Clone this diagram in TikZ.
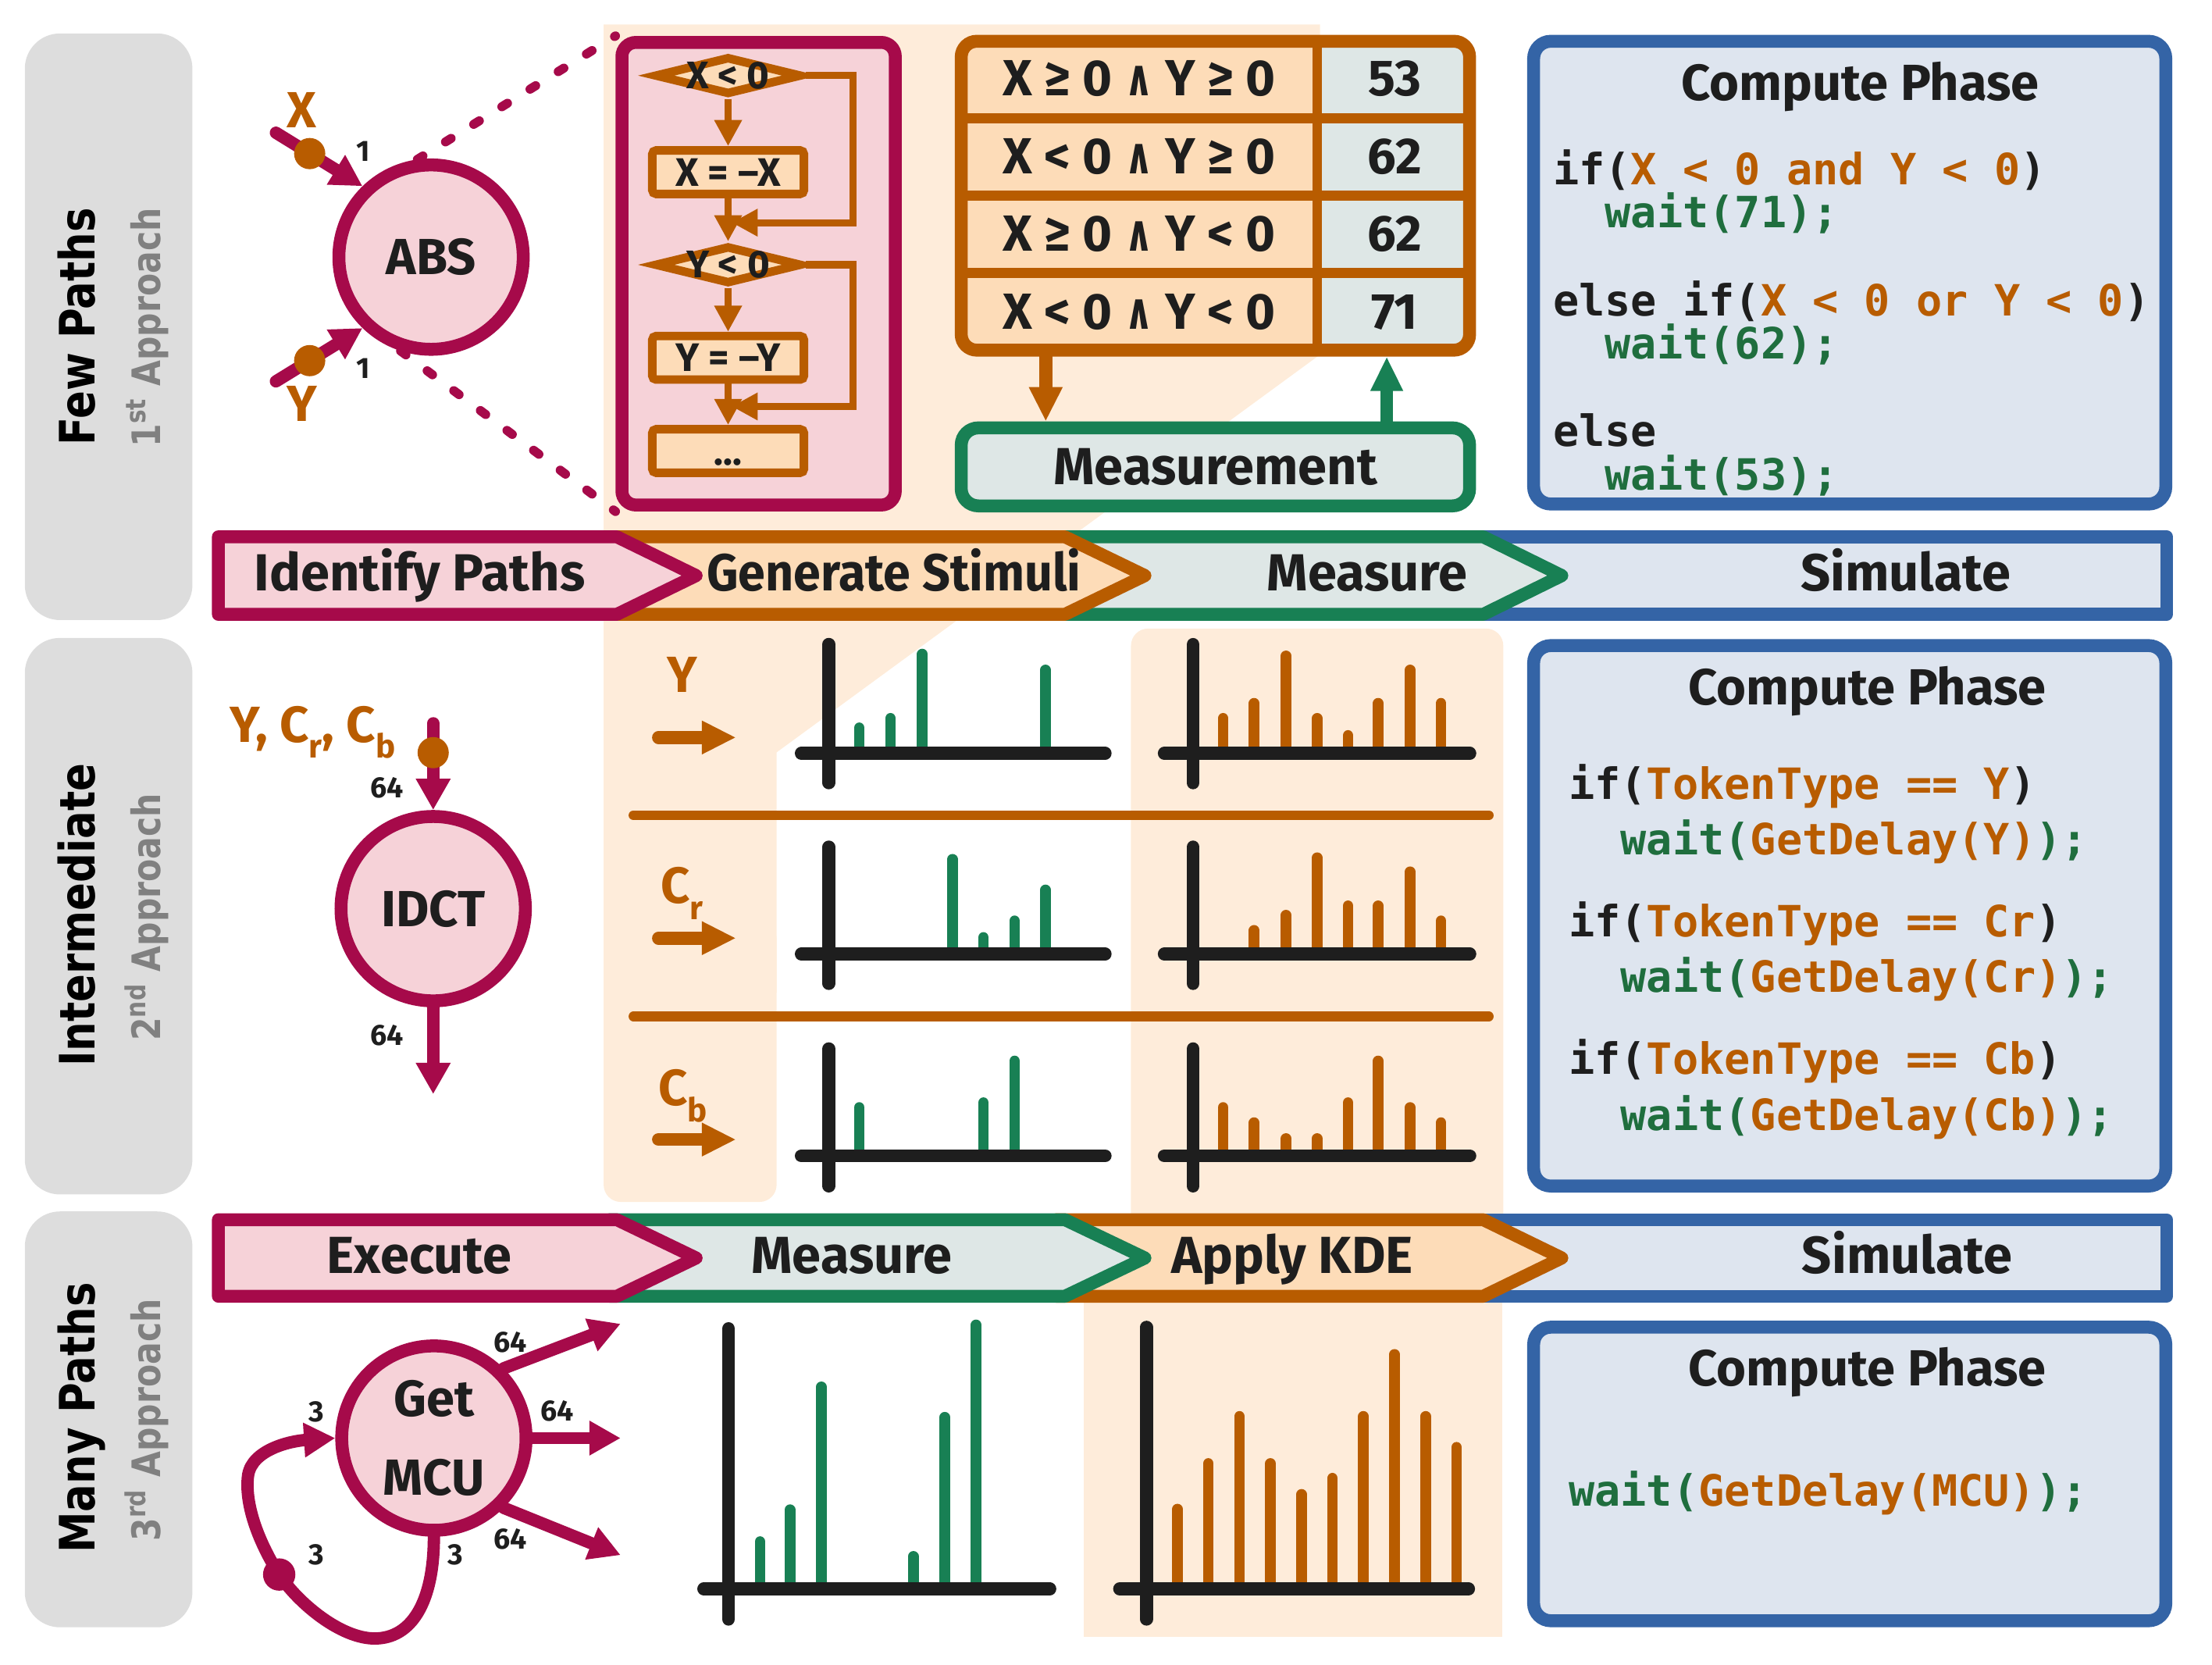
\documentclass[tikz,border=0pt]{standalone}
\usepackage{fontspec}
\setmainfont{Fira Sans}
\setmonofont{DejaVu Sans Mono}
\newfontfamily\sidef{DejaVu Sans}[FakeStretch=0.845]
\newfontfamily\symf{DejaVu Sans}[FakeStretch=0.7]
\usetikzlibrary{arrows.meta,shapes.geometric,calc}
\definecolor{cpurple}{RGB}{166,10,74}
\definecolor{cpink}{RGB}{246,210,216}
\definecolor{corange}{RGB}{184,92,0}
\definecolor{cofill}{RGB}{253,220,184}
\definecolor{cpeach}{RGB}{254,236,218}
\definecolor{cgreen}{RGB}{24,128,84}
\definecolor{ccode}{RGB}{31,110,62}
\definecolor{cgfill}{RGB}{222,231,230}
\definecolor{cblue}{RGB}{52,100,166}
\definecolor{cbfill}{RGB}{222,229,239}
\definecolor{cgray}{RGB}{221,221,221}
\definecolor{cdark}{RGB}{30,30,30}
\definecolor{ctgray}{RGB}{128,128,128}
\def\dpx{0.1816mm}
\newcommand\fsz[1]{\fontsize{#1}{#1}\selectfont}
\newcommand\lsub[1]{\raisebox{-0.32em}{\fontsize{12}{12}\selectfont #1}}
\newcommand\andsym{{\symf\bfseries ∧}}
\tikzset{
  proc/.style={circle, draw=cpurple, fill=cpink, line width=4.7pt, minimum size={130*\dpx}, inner sep=0pt, font=\fsz{18.5}\bfseries, text=cdark, align=center},
  conn/.style={draw=cpurple, line width=4.5pt, line cap=round, -{Triangle[length=11.4pt,width=11.9pt]}},
  dashc/.style={draw=cpurple, line width=3.3pt, line cap=round, dash pattern=on 2.4pt off 9.7pt},
  odot/.style={circle, fill=corange, minimum size={22*\dpx}, inner sep=0pt},
  pdot/.style={circle, fill=cpurple, minimum size={22.8*\dpx}, inner sep=0pt},
  olab/.style={text=corange, font=\fsz{18.5}\bfseries, inner sep=0pt},
  num/.style={text=cdark, font=\fsz{10.7}\bfseries, inner sep=0pt},
  fframe/.style={rectangle, draw=cpurple, fill=cpink, line width=4.7pt, rounded corners=1.8mm},
  fbox/.style={rectangle, draw=corange, fill=cofill, line width=3.1pt, rounded corners=0.5mm, minimum width={107*\dpx}, minimum height={30.7*\dpx}, inner sep=0pt, font=\fsz{14.5}\bfseries, text=cdark},
  fdia/.style={diamond, draw=corange, fill=cofill, line width=3.1pt, minimum width={104*\dpx}, minimum height={27*\dpx}, inner sep=0pt},
  ftxt/.style={text=cdark, font=\fsz{14}\bfseries, inner sep=0pt},
  farr/.style={draw=corange, line width=2.6pt, -{Triangle[length=9.5pt,width=9.5pt]}},
  oarr/.style={draw=corange, line width=4.7pt, line cap=round, -{Triangle[length=12.5pt,width=11.4pt]}},
  garr/.style={draw=cgreen, line width=4.7pt, -{Triangle[length=12.5pt,width=11pt]}},
  chev/.style={line width=4.7pt, line join=round},
  chevtxt/.style={font=\fsz{19}\bfseries, text=cdark, anchor=base, inner sep=0pt},
  ttxt/.style={font=\fsz{18.5}\bfseries, text=cdark, anchor=base, inner sep=0pt},
  ttl/.style={font=\fsz{18.5}\bfseries, text=cdark, anchor=base, inner sep=0pt},
  cbox/.style={draw=cblue, fill=cbfill, line width=4.7pt, rounded corners=2.2mm, minimum width={445.8*\dpx}},
  code/.style={font=\ttfamily\bfseries\fsz{15.7}, text=cdark, anchor=base west, inner sep=0pt},
  side/.style={rotate=90, font=\sidef\bfseries\fsz{17.8}, text=black, anchor=base, inner sep=0pt},
  sideg/.style={rotate=90, font=\sidef\bfseries\fsz{14.3}, text=ctgray, anchor=base, inner sep=0pt},
  axis/.style={draw=cdark, line width=4.7pt, line cap=round},
  gbar/.style={draw=cgreen, line width=3.9pt, line cap=round},
  obar/.style={draw=corange, line width=3.9pt, line cap=round},
  sepl/.style={draw=corange, line width=3.5pt, line cap=round},
}
\begin{document}
\begin{tikzpicture}[x=0.1816mm, y=-0.1816mm]
\useasboundingbox (0,0) rectangle (1560,1174);

% ---------- backgrounds ----------
\fill[cgray, rounded corners=4.5mm] (17.5,23.6) rectangle (135.7,437.2);
\fill[cgray, rounded corners=4.5mm] (17.5,449.8) rectangle (135.7,842.2);
\fill[cgray, rounded corners=4.5mm] (17.5,854.2) rectangle (135.7,1147.4);

\fill[cpeach] (425.7,17.3) -- (931,17.3) -- (931,250) -- (547.7,530.5) -- (547.7,700) -- (425.7,700) -- cycle;
\fill[cpeach, rounded corners=2.2mm] (425.7,650) rectangle (547.7,847.5);
\fill[cpeach, rounded corners=2.2mm] (797.6,443.2) rectangle (1060.2,880);
\fill[cpeach] (764.2,870) rectangle (1059.5,1154);

% ---------- side labels ----------
\node[side] (s1) at (67,230.4) {Few Paths};
\node[sideg] (a1) at (113,231) {1\textsuperscript{st} Approach};
\node[side] (s2) at (67,645.3) {Intermediate};
\node[sideg] (a2) at (113,646.7) {2\textsuperscript{nd} Approach};
\node[side] (s3) at (67,999.8) {Many Paths};
\node[sideg] (a3) at (113,1001.3) {3\textsuperscript{rd} Approach};

% ---------- chevron bar 1 ----------
\draw[chev, draw=cblue, fill=cbfill] (1040,378.5) rectangle (1528,433.2);
\draw[chev, draw=cgreen, fill=cgfill] (745,378.5) -- (1046,378.5) -- (1101.5,405.85) -- (1046,433.2) -- (745,433.2) -- cycle;
\draw[chev, draw=corange, fill=cofill] (430,378.5) -- (751,378.5) -- (807.5,405.85) -- (751,433.2) -- (430,433.2) -- cycle;
\draw[chev, draw=cpurple, fill=cpink] (154,378.5) -- (435,378.5) -- (491,405.85) -- (435,433.2) -- (154,433.2) -- cycle;
\node[chevtxt] (p1) at (296,416.7) {Identify Paths};
\node[chevtxt] (p2) at (630.5,416.7) {\scalebox{0.94}[1]{Generate Stimuli}};
\node[chevtxt] (p3) at (964.3,416.7) {Measure};
\node[chevtxt] (p4) at (1344,416.7) {Simulate};

% ---------- chevron bar 2 ----------
\draw[chev, draw=cblue, fill=cbfill] (1040,860) rectangle (1528,914);
\draw[chev, draw=corange, fill=cofill] (745,860) -- (1046,860) -- (1101.5,887) -- (1046,914) -- (745,914) -- cycle;
\draw[chev, draw=cgreen, fill=cgfill] (430,860) -- (751,860) -- (807.5,887) -- (751,914) -- (430,914) -- cycle;
\draw[chev, draw=cpurple, fill=cpink] (154,860) -- (435,860) -- (491,887) -- (435,914) -- (154,914) -- cycle;
\node[chevtxt] (q1) at (295.7,897.9) {Execute};
\node[chevtxt] (q2) at (600.6,897.9) {Measure};
\node[chevtxt] (q3) at (911.3,897.9) {Apply KDE};
\node[chevtxt] (q4) at (1345,897.9) {Simulate};

% ---------- ABS ----------
\node[proc] (abs) at (304,181.3) {ABS};
\node[fframe, minimum width={192.8*\dpx}, minimum height={326.2*\dpx}] (fc) at (535,193) {};
\draw[dashc] (abs.98) -- (fc.north west);
\draw[dashc] (abs.-108) -- (fc.south west);
\node[olab] (xl) at (212.9,77.4) {X};
\node[olab] (yl) at (212.9,284.8) {Y};
\coordinate (xs) at (194.6,93.6);
\coordinate (ys) at (194.6,268.9);
\draw[conn] (xs) -- (abs.134);
\draw[conn] (ys) -- (abs.226);
\node[odot] (xd) at (218.4,108.3) {};
\node[odot] (yd) at (218.4,254.3) {};
\node[num] (n1) at (256,106.5) {1};
\node[num] (n2) at (256,259.7) {1};

% flowchart
\node[fdia] (d1) at (513.5,53.3) {};
\node[ftxt] (d1t) at (d1) {X < 0};
\node[fbox] (b1) at (513.5,121.4) {X = –X};
\node[fdia] (d2) at (513.5,186.7) {};
\node[ftxt] (d2t) at (d2) {Y < 0};
\node[fbox] (b2) at (513.5,252.3) {Y = –Y};
\node[fbox] (b3) at (513.5,318) {};
\node[ftxt, anchor=base] (b3t) at (513.5,328) {...};
\draw[farr] (d1) -- (b1);
\draw[farr] (b1) -- (d2);
\draw[farr] (d2) -- (b2);
\draw[farr] (b2) -- (b3);
\coordinate (m1) at (516,157);
\coordinate (m2) at (516,286.6);
\draw[farr] (d1.east) -- ++(33,0) |- (m1);
\draw[farr] (d2.east) -- ++(33,0) |- (m2);

% ---------- table ----------
\fill[cofill, rounded corners=2mm] (677.9,29.1) rectangle (1036.4,246.9);
\fill[cgfill] (929,29.1) rectangle (1036.4,246.9);
\draw[corange, line width=3.6pt] (929,29.1) -- (929,246.9);
\draw[corange, line width=3.6pt] (677.9,83.55) -- (1036.4,83.55);
\draw[corange, line width=3.6pt] (677.9,138) -- (1036.4,138);
\draw[corange, line width=3.6pt] (677.9,192.45) -- (1036.4,192.45);
\node[draw=corange, line width=4.7pt, rounded corners=2mm, minimum width={358.5*\dpx}, minimum height={217.8*\dpx}] (tbl) at (857.15,138) {};
\node[ttxt] (r1a) at (803.5,67.7) {X ≥ 0 \andsym{} Y ≥ 0};
\node[ttxt] (r2a) at (803.5,122.4) {X < 0 \andsym{} Y ≥ 0};
\node[ttxt] (r3a) at (803.5,177.1) {X ≥ 0 \andsym{} Y < 0};
\node[ttxt] (r4a) at (803.5,232) {X < 0 \andsym{} Y < 0};
\node[ttxt] (r1b) at (983.5,67.7) {53};
\node[ttxt] (r2b) at (983.5,122.4) {62};
\node[ttxt] (r3b) at (983.5,177.1) {62};
\node[ttxt] (r4b) at (983.5,232) {71};

\node[draw=cgreen, fill=cgfill, line width=4.7pt, rounded corners=2.2mm, minimum width={358.5*\dpx}, minimum height={55*\dpx}, font=\fsz{19}\bfseries, text=cdark] (meas) at (857.15,329.2) {Measurement};
\coordinate (ta) at (737.5,250);
\coordinate (tb) at (978,250);
\draw[oarr] (tbl.south -| ta) -- (meas.north -| ta);
\draw[garr] (meas.north -| tb) -- (tbl.south -| tb);

% ---------- compute phase boxes ----------
\node[cbox, minimum height={326.3*\dpx}] (cp1) at (1304.5,192.25) {};
\node[ttl] (cp1t) at (1312,70.6) {Compute Phase};
\node[code] (c11) at (1095,130) {if(\textcolor{corange}{X < 0 and Y < 0})};
\node[code] (c12) at (1131.6,160.6) {\textcolor{ccode}{wait(71);}};
\node[code] (c13) at (1095,222.6) {else if(\textcolor{corange}{X < 0 or Y < 0})};
\node[code] (c14) at (1131.6,253.3) {\textcolor{ccode}{wait(62);}};
\node[code] (c15) at (1095,314.8) {else};
\node[code] (c16) at (1131.6,345.5) {\textcolor{ccode}{wait(53);}};

\node[cbox, minimum height={381.1*\dpx}] (cp2) at (1304.5,645.75) {};
\node[ttl] (cp2t) at (1317,497) {Compute Phase};
\node[code] (c21) at (1106,563.8) {if(\textcolor{corange}{TokenType == Y})};
\node[code] (c22) at (1142.6,602.8) {\textcolor{ccode}{wait(}\textcolor{corange}{GetDelay(Y)}\textcolor{ccode}{);}};
\node[code] (c23) at (1106,660.7) {if(\textcolor{corange}{TokenType == Cr})};
\node[code] (c24) at (1142.6,699.4) {\textcolor{ccode}{wait(}\textcolor{corange}{GetDelay(Cr)}\textcolor{ccode}{);}};
\node[code] (c25) at (1106,757.6) {if(\textcolor{corange}{TokenType == Cb})};
\node[code] (c26) at (1142.6,796.8) {\textcolor{ccode}{wait(}\textcolor{corange}{GetDelay(Cb)}\textcolor{ccode}{);}};

\node[cbox, minimum height={207*\dpx}] (cp3) at (1304.5,1039.3) {};
\node[ttl] (cp3t) at (1317,977.3) {Compute Phase};
\node[code] (c31) at (1106,1062.1) {\textcolor{ccode}{wait(}\textcolor{corange}{GetDelay(MCU)}\textcolor{ccode}{);}};

% ---------- IDCT ----------
\node[proc] (idct) at (305.5,640.7) {IDCT};
\coordinate (iin) at (305.5,510);
\coordinate (iout) at (305.5,771.5);
\draw[conn] (iin) -- (idct);
\draw[conn] (idct) -- (iout);
\node[odot] (idot) at (305.5,530.7) {};
\node[num] (n64a) at (273,555.3) {64};
\node[num] (n64b) at (273,730) {64};
\node[olab, anchor=base west] (ycc) at (162,523.2) {Y, C\lsub{r}, C\lsub{b}};

% column labels and arrows
\node[olab, anchor=base] (ly) at (481.2,488) {Y};
\node[olab, anchor=base west] (lcr) at (465.5,637) {C\lsub{r}};
\node[olab, anchor=base west] (lcb) at (464,779.5) {C\lsub{b}};
\coordinate (ya) at (464.4,520);   \coordinate (yb) at (519.1,520);
\coordinate (cra) at (464.4,661.5); \coordinate (crb) at (519.1,661.5);
\coordinate (cba) at (464.4,803.5); \coordinate (cbb) at (519.1,803.5);
\draw[oarr] (ya) -- (yb);
\draw[oarr] (cra) -- (crb);
\draw[oarr] (cba) -- (cbb);

\draw[sepl] (446.7,574.8) -- (1050,574.8);
\draw[sepl] (446.7,716.7) -- (1050,716.7);

% green histograms row 2
\foreach \x/\t in {606/513.2, 628/506.5, 650.5/461.2, 737.3/472.4}
  \draw[gbar] (\x,531.2) -- (\x,\t);
\foreach \x/\t in {671.7/605.9, 693.6/661, 715.5/649.3, 737.3/627.5}
  \draw[gbar] (\x,672.7) -- (\x,\t);
\foreach \x/\t in {606/780.9, 693.6/777.5, 715.5/748.1}
  \draw[gbar] (\x,815) -- (\x,\t);
\draw[axis] (584.5,454.3) -- (584.5,552);
\draw[axis] (565.1,531.2) -- (779.4,531.2);
\draw[axis] (584.5,597.2) -- (584.5,693.5);
\draw[axis] (565.1,672.7) -- (779.4,672.7);
\draw[axis] (584.5,739.5) -- (584.5,836.3);
\draw[axis] (565.1,815) -- (779.4,815);

% orange histograms row 2
\foreach \x/\t in {862.6/506.5, 884.5/495.9, 907/462.5, 928.9/506.5, 950.7/518.6, 972/495.9, 994.5/472.4, 1016.3/495.9}
  \draw[obar] (\x,531.2) -- (\x,\t);
\foreach \x/\t in {884.5/656, 907/645.3, 928.9/604.8, 950.7/638.7, 972/638.7, 994.5/614.7, 1016.3/649.3}
  \draw[obar] (\x,672.7) -- (\x,\t);
\foreach \x/\t in {862.6/780.9, 884.5/791.6, 907/802.8, 928.9/802.8, 950.7/777.5, 972/748.1, 994.5/780.9, 1016.3/791.6}
  \draw[obar] (\x,815) -- (\x,\t);
\draw[axis] (841.4,454.4) -- (841.4,552);
\draw[axis] (821.1,531.2) -- (1036.6,531.2);
\draw[axis] (841.4,597.2) -- (841.4,693.5);
\draw[axis] (821.1,672.7) -- (1036.6,672.7);
\draw[axis] (841.4,739.5) -- (841.4,836.3);
\draw[axis] (821.1,815) -- (1036.6,815);

% ---------- Get MCU ----------
\node[proc, font=\fontsize{18.5}{28.9}\selectfont\bfseries] (mcu) at (306,1014) {Get\\MCU};
\coordinate (mo1) at (437.7,933.4);
\coordinate (mo2) at (437.7,1014);
\coordinate (mo3) at (437.7,1096.5);
\draw[conn] (mcu.45) -- (mo1);
\draw[conn] (mcu.east) -- (mo2);
\draw[conn] (mcu.-45) -- (mo3);
\draw[conn] (mcu.south) .. controls (306,1130) and (290,1155.3) .. (264.2,1155.3)
  .. controls (240,1155.3) and (210,1130) .. (196.9,1110.2)
  .. controls (184,1090) and (172,1062) .. (175,1040)
  .. controls (178,1022) and (205,1016) .. (mcu.west);
\node[pdot] (ldot) at (196.9,1110.2) {};
\node[num] (m64a) at (360,946.3) {64};
\node[num] (m64b) at (392.8,995.1) {64};
\node[num] (m64c) at (360,1085.2) {64};
\node[num] (m3a) at (222.9,995.6) {3};
\node[num] (m3b) at (222.9,1096.5) {3};
\node[num] (m3c) at (321.1,1096.5) {3};

% big histograms row 3
\foreach \x/\t in {536/1087, 557.1/1064.5, 579.2/977.9, 644.1/1097.4, 666.3/999.3, 688.4/934.2}
  \draw[gbar] (\x,1120.3) -- (\x,\t);
\draw[axis] (513.8,936.8) -- (513.8,1141.7);
\draw[axis] (496.3,1120.3) -- (740.4,1120.3);
\foreach \x/\t in {830.4/1064.1, 852.2/1031.9, 874.1/998.7, 896/1031.9, 917.9/1053.7, 939.7/1042.3, 961.6/998.7, 983.5/955, 1005.4/998.7, 1027.2/1020.5}
  \draw[obar] (\x,1120.3) -- (\x,\t);
\draw[axis] (808.5,935.8) -- (808.5,1141.7);
\draw[axis] (789.6,1120.3) -- (1035.7,1120.3);
\end{tikzpicture}
\end{document}
